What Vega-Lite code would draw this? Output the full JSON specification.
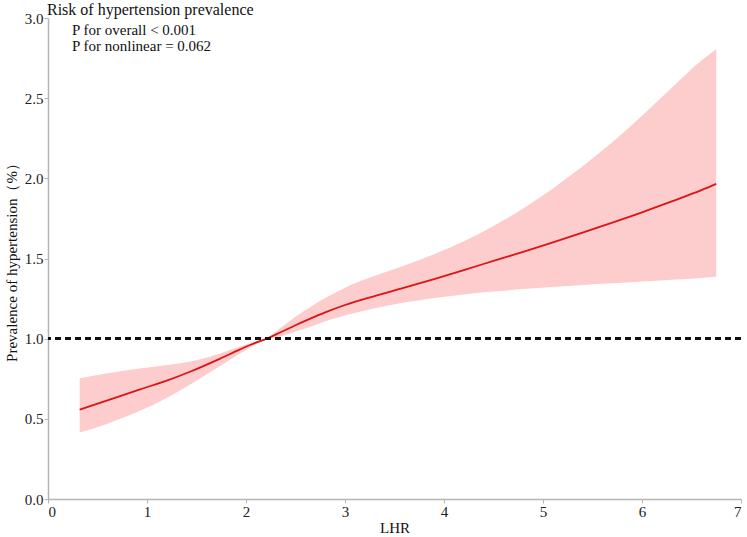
{
  "$schema": "https://vega.github.io/schema/vega-lite/v6.json",
  "width": 693,
  "height": 481,
  "autosize": {"type": "none"},
  "padding": {"left": 48, "top": 18, "right": 6, "bottom": 38},
  "background": "white",
  "title": {
    "text": "Risk of hypertension prevalence",
    "anchor": "start",
    "frame": "group",
    "offset": -7,
    "dx": -1,
    "fontSize": 16,
    "fontWeight": "normal",
    "color": "#111"
  },
  "config": {
    "font": "Liberation Serif",
    "view": {"stroke": null},
    "axis": {
      "grid": false,
      "domainColor": "#b5b5b5",
      "domainWidth": 1.5,
      "tickColor": "#b5b5b5",
      "tickSize": 4,
      "labelFontSize": 15,
      "labelColor": "#222",
      "labelPadding": 1,
      "titleFontSize": 15,
      "titleFontWeight": "normal",
      "titleColor": "#111"
    }
  },
  "data": {
    "values": [
      {"LHR": 0.32, "fit": 0.557, "lower": 0.414, "upper": 0.753},
      {"LHR": 0.6, "fit": 0.615, "lower": 0.47, "upper": 0.784},
      {"LHR": 0.93, "fit": 0.684, "lower": 0.55, "upper": 0.814},
      {"LHR": 1.2, "fit": 0.738, "lower": 0.63, "upper": 0.835},
      {"LHR": 1.44, "fit": 0.795, "lower": 0.715, "upper": 0.858},
      {"LHR": 1.74, "fit": 0.876, "lower": 0.83, "upper": 0.908},
      {"LHR": 1.94, "fit": 0.933, "lower": 0.908, "upper": 0.951},
      {"LHR": 2.1, "fit": 0.975, "lower": 0.964, "upper": 0.983},
      {"LHR": 2.21, "fit": 1.0, "lower": 0.997, "upper": 1.004},
      {"LHR": 2.35, "fit": 1.04, "lower": 1.014, "upper": 1.068},
      {"LHR": 2.5, "fit": 1.084, "lower": 1.045, "upper": 1.137},
      {"LHR": 2.65, "fit": 1.125, "lower": 1.075, "upper": 1.198},
      {"LHR": 2.8, "fit": 1.164, "lower": 1.108, "upper": 1.253},
      {"LHR": 3.0, "fit": 1.21, "lower": 1.145, "upper": 1.318},
      {"LHR": 3.3, "fit": 1.266, "lower": 1.19, "upper": 1.392},
      {"LHR": 3.6, "fit": 1.318, "lower": 1.225, "upper": 1.457},
      {"LHR": 3.9, "fit": 1.372, "lower": 1.254, "upper": 1.527},
      {"LHR": 4.2, "fit": 1.428, "lower": 1.276, "upper": 1.607},
      {"LHR": 4.5, "fit": 1.485, "lower": 1.294, "upper": 1.702},
      {"LHR": 4.8, "fit": 1.542, "lower": 1.309, "upper": 1.812},
      {"LHR": 5.1, "fit": 1.601, "lower": 1.322, "upper": 1.937},
      {"LHR": 5.4, "fit": 1.662, "lower": 1.334, "upper": 2.075},
      {"LHR": 5.7, "fit": 1.724, "lower": 1.345, "upper": 2.225},
      {"LHR": 6.0, "fit": 1.788, "lower": 1.356, "upper": 2.39},
      {"LHR": 6.3, "fit": 1.856, "lower": 1.367, "upper": 2.565},
      {"LHR": 6.6, "fit": 1.926, "lower": 1.379, "upper": 2.735},
      {"LHR": 6.75, "fit": 1.965, "lower": 1.386, "upper": 2.805}
    ]
  },
  "encoding": {
    "x": {
      "field": "LHR",
      "type": "quantitative",
      "title": "LHR",
      "scale": {"domain": [0, 7], "nice": false},
      "axis": {"values": [0, 1, 2, 3, 4, 5, 6, 7], "titlePadding": 1}
    }
  },
  "layer": [
    {
      "mark": {"type": "area", "interpolate": "monotone", "color": "#fdcdcd", "opacity": 1},
      "encoding": {
        "y": {
          "field": "lower",
          "type": "quantitative",
          "title": "Prevalence of hypertension（%）",
          "scale": {"domain": [0, 3], "nice": false},
          "axis": {"values": [0, 0.5, 1, 1.5, 2, 2.5, 3], "format": ".1f", "titlePadding": 5}
        },
        "y2": {"field": "upper"}
      }
    },
    {
      "mark": {"type": "line", "interpolate": "monotone", "color": "#dc1414", "strokeWidth": 1.8},
      "encoding": {
        "y": {"field": "fit", "type": "quantitative"}
      }
    },
    {
      "mark": {"type": "rule", "color": "#111", "strokeWidth": 1.8, "strokeDash": [6, 4]},
      "encoding": {
        "y": {"datum": 1},
        "x": null
      }
    },
    {
      "transform": [{"filter": "datum.LHR === 0.32"}],
      "mark": {
        "type": "text",
        "text": ["P for overall < 0.001", "P for nonlinear = 0.062"],
        "align": "left",
        "baseline": "alphabetic",
        "fontSize": 15,
        "lineHeight": 16,
        "color": "#111"
      },
      "encoding": {
        "x": {"datum": 0.242},
        "y": {"datum": 2.894}
      }
    }
  ]
}
